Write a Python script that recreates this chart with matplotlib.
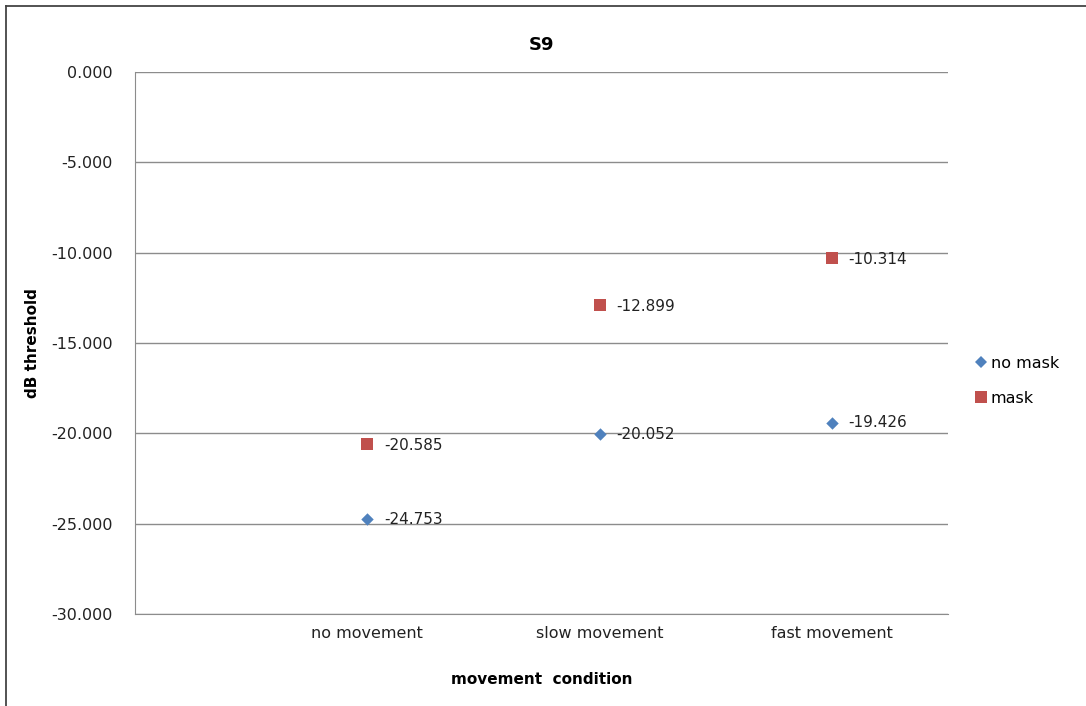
import numpy as np
import matplotlib.pyplot as plt
from matplotlib.lines import Line2D

# values
conditions = ["no movement", "slow movement", "fast movement"]
no_mask = [-24.753, -20.052, -19.426]
mask = [-20.585, -12.899, -10.314]

blue = "#4F81BD"
red = "#C0504D"
grid_col = "#8C8C8C"

plt.rcParams["font.family"] = ["DejaVu Sans"]

fig = plt.figure(figsize=(10.86, 7.06), dpi=100)
ax = fig.add_axes([135 / 1086, 1 - 614 / 706, (948 - 135) / 1086, (614 - 72) / 706])

x = np.arange(1, len(conditions) + 1)

ax.scatter(x, no_mask, marker="D", s=40, color=blue, zorder=3, linewidths=0)
ax.scatter(x, mask, marker="s", s=75, color=red, zorder=3, linewidths=0)

for xi, v in zip(x, no_mask):
    ax.annotate(f"{v:.3f}", (xi, v), xytext=(12, 0), textcoords="offset points",
                va="center", ha="left", fontsize=11, color="#222222")
for xi, v in zip(x, mask):
    ax.annotate(f"{v:.3f}", (xi, v), xytext=(12, -1), textcoords="offset points",
                va="center", ha="left", fontsize=11, color="#222222")

ax.set_xlim(0, 3.5)
ax.set_ylim(-30, 0)
ax.set_xticks(x)
ax.set_xticklabels(conditions, fontsize=11.5, color="#222222")
ax.set_yticks(np.arange(-30, 1, 5))
ax.set_yticklabels([f"{t:.3f}" for t in np.arange(-30, 1, 5)], fontsize=11.5, color="#222222")
ax.tick_params(axis="both", length=0)
ax.tick_params(axis="y", pad=16)
ax.tick_params(axis="x", pad=9)

ax.grid(axis="y", color=grid_col, linewidth=1)
ax.set_axisbelow(True)
for side in ["top", "right"]:
    ax.spines[side].set_visible(False)
ax.spines["left"].set_color(grid_col)
ax.spines["bottom"].set_color(grid_col)

ax.set_title("S9", fontsize=13, fontweight="bold", pad=16)
ax.set_xlabel("movement  condition", fontsize=11, fontweight="bold", labelpad=22)
ax.set_ylabel("dB threshold", fontsize=11, fontweight="bold", labelpad=8)

handles = [
    Line2D([], [], marker="D", linestyle="none", color=blue, markersize=6, markeredgewidth=0),
    Line2D([], [], marker="s", linestyle="none", color=red, markersize=8, markeredgewidth=0),
]
fig.legend(handles, ["no mask", "mask"], loc="center left", bbox_to_anchor=(957 / 1086, 1 - 381 / 706),
           frameon=False, fontsize=11.5, handletextpad=0.0, labelspacing=1.25, handlelength=1.2)

# outer chart border (top and left visible in reference)
fig.add_artist(Line2D([6 / 1086, 6 / 1086], [0, 1 - 6 / 706], transform=fig.transFigure, color="#444444", lw=1.3))
fig.add_artist(Line2D([6 / 1086, 1], [1 - 6 / 706, 1 - 6 / 706], transform=fig.transFigure, color="#444444", lw=1.3))

fig.savefig("out.png", dpi=100)
